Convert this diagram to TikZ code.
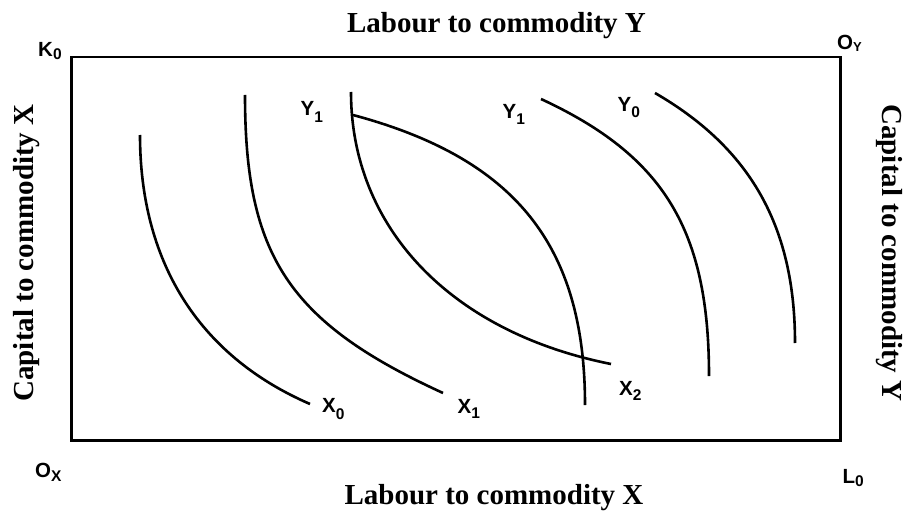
\documentclass[tikz,border=0pt]{standalone}
\usepackage{fontspec}
\setmainfont{Liberation Serif}
\newfontfamily\labfont{Liberation Sans}
\newcommand{\mysub}[3]{\raisebox{-#1pt}{\fontsize{#2}{#2}\selectfont #3}}
\begin{document}
\begin{tikzpicture}[x=1pt,y=-1pt,
  curve/.style={line width=2.6pt},
  frame/.style={line width=2.2pt},
  title/.style={font=\fontsize{29}{29}\selectfont\bfseries, inner sep=0pt},
  lab/.style={font=\labfont\bfseries\fontsize{20.5}{20.5}\selectfont, inner sep=0pt, anchor=base west}]
\useasboundingbox (0,0) rectangle (904,513);
% frame
\coordinate (K) at (71.5,56.7);
\coordinate (OY) at (840.5,56.7);
\coordinate (L) at (840.5,440.5);
\coordinate (OX) at (71.5,440.5);
\draw[frame] (K) -- (OY) -- (L) -- (OX) -- cycle;
% isoquants of X
\draw[curve] (140,135) .. controls (140,260) and (197,355) .. (310,404);
\draw[curve] (245,95) .. controls (245,255) and (288,322) .. (443,393);
\draw[curve] (351,92) .. controls (351,227) and (450,332) .. (611,364);
% isoquants of Y
\draw[curve] (353,115) .. controls (515.4,158.5) and (585,245.5) .. (585,405);
\draw[curve] (541,99) .. controls (664,156) and (709,230) .. (709,376);
\draw[curve] (655,93) .. controls (750,148) and (795,226) .. (795,343);
% titles
\node[title, anchor=base] (tt) at (496.5,32.3) {Labour to commodity Y};
\node[title, anchor=base] (tb) at (494,504) {Labour to commodity X};
\node[title, anchor=base, rotate=90] (tl) at (33.3,253) {Capital to commodity X};
\node[title, anchor=base, rotate=-90] (tr) at (882,253) {Capital to commodity Y};
% corner labels
\node[lab] (k0) at (38,56.5) {K\mysub{3}{15.5}{0}};
\node[lab] (oy) at (837,50) {O\mysub{2}{13}{Y}};
\node[lab] (ox) at (35,477.7) {O\mysub{4}{15.5}{X}};
\node[lab] (l0) at (842.5,483) {L\mysub{3}{15.5}{0}};
% curve labels
\node[lab] (y1a) at (300.5,115.5) {Y\mysub{7}{15.5}{1}};
\node[lab] (y1b) at (502.5,119) {Y\mysub{6}{15.5}{1}};
\node[lab] (y0) at (617.5,111.5) {Y\mysub{6}{15.5}{0}};
\node[lab] (x0) at (322,412.7) {X\mysub{7}{15.5}{0}};
\node[lab] (x1) at (457.5,413.5) {X\mysub{5}{15.5}{1}};
\node[lab] (x2) at (619,395.5) {X\mysub{5}{15.5}{2}};
\end{tikzpicture}
\end{document}
